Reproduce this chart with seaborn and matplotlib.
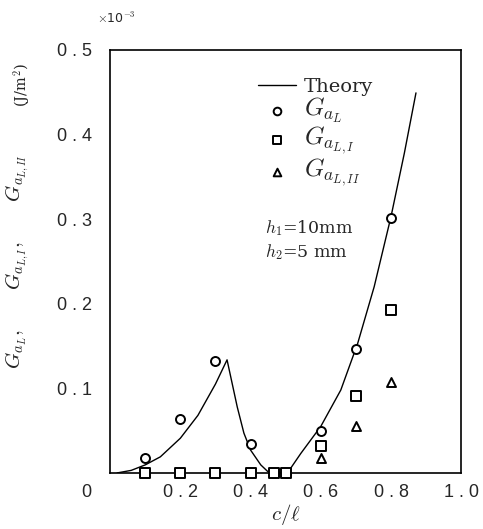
import matplotlib
matplotlib.use('Agg')
import matplotlib.pyplot as plt
import matplotlib.transforms as mtransforms
import seaborn as sns

# theory curve
theory_c = [0.02, 0.06, 0.10, 0.143, 0.20, 0.25, 0.30, 0.333,
            0.362, 0.381, 0.40, 0.429, 0.448, 0.457, 0.505,
            0.543, 0.60, 0.657, 0.705, 0.752, 0.80, 0.838, 0.871]
theory_g = [0.0, 0.003, 0.0095, 0.019, 0.041, 0.068, 0.105, 0.1336,
            0.078, 0.047, 0.027, 0.0095, 0.002, 0.0, 0.0,
            0.023, 0.055, 0.098, 0.153, 0.220, 0.303, 0.378, 0.449]

# measured points
c_total = [0.1, 0.2, 0.3, 0.4, 0.466, 0.5, 0.6, 0.7, 0.8]
g_total = [0.018, 0.064, 0.132, 0.034, 0.0, 0.0, 0.050, 0.147, 0.301]
c_mode1 = [0.1, 0.2, 0.3, 0.4, 0.466, 0.5, 0.6, 0.7, 0.8]
g_mode1 = [0.0, 0.0, 0.0, 0.0, 0.0, 0.0, 0.032, 0.091, 0.193]
c_mode2 = [0.6, 0.7, 0.8]
g_mode2 = [0.018, 0.056, 0.108]

xticks = [0.0, 0.2, 0.4, 0.6, 0.8, 1.0]
xtick_labels = ['0', '0 . 2', '0 . 4', '0 . 6', '0 . 8', '1 . 0']
yticks = [0.1, 0.2, 0.3, 0.4, 0.5]
ytick_labels = ['0 . 1', '0 . 2', '0 . 3', '0 . 4', '0 . 5']

sns.set_style('white')
plt.rcParams['mathtext.fontset'] = 'cm'
plt.rcParams['font.family'] = ['DejaVu Sans']

fig = plt.figure(figsize=(4.83, 5.29), dpi=100)
ax = fig.add_axes([0.228, 0.106, 0.727, 0.800])

sns.lineplot(x=theory_c, y=theory_g, ax=ax, color='black', linewidth=1.0,
             label='Theory', sort=False)
mk = dict(facecolor='white', edgecolor='black', linewidth=1.4, s=42, zorder=3, clip_on=False)
sns.scatterplot(x=c_total, y=g_total, ax=ax, marker='o', label=r'$G_{a_L}$', **mk)
sns.scatterplot(x=c_mode1, y=g_mode1, ax=ax, marker='s', label=r'$G_{a_{L,I}}$', **mk)
sns.scatterplot(x=c_mode2, y=g_mode2, ax=ax, marker='^', label=r'$G_{a_{L,II}}$', **mk)

ax.set_xlim(0, 1.0)
ax.set_ylim(0, 0.5)
ax.set_xticks(xticks)
ax.set_xticklabels(xtick_labels, family='Liberation Sans', fontsize=13)
ax.set_yticks(yticks)
ax.set_yticklabels(ytick_labels, family='Liberation Sans', fontsize=13)
ax.tick_params(axis='y', direction='in', length=3, pad=13)
ax.tick_params(axis='x', direction='in', length=0, pad=8)
# the "0" label sits left of the corner
lbl0 = ax.get_xticklabels()[0]
lbl0.set_transform(lbl0.get_transform() + mtransforms.ScaledTranslation(-0.24, 0, fig.dpi_scale_trans))

for s in ax.spines.values():
    s.set_color('black')
    s.set_linewidth(1.2)

ax.set_xlabel(r'$c/\ell$', fontsize=15, labelpad=1)
ax.set_ylabel('')
fig.text(17 / 483, 1 - 262 / 529,
         r'$G_{a_L},\qquad G_{a_{L,I}},\qquad G_{a_{L,II}}$',
         rotation=90, fontsize=15, ha='center', va='center')
fig.text(22 / 483, 1 - 85 / 529, r'(J/m$^2$)', rotation=90, fontsize=10.5,
         family='DejaVu Serif', ha='center', va='center')
fig.text(0.20, 0.965, r'$\times$10$^{-3}$', fontsize=9, family='DejaVu Sans',
         ha='left', va='center')

leg = ax.legend(loc='upper left', bbox_to_anchor=(0.37, 0.975), frameon=False,
                handlelength=2.0, handletextpad=0.4, labelspacing=0.0,
                markerscale=0.85, prop={'family': 'DejaVu Serif', 'size': 14})
for t in leg.get_texts()[1:]:
    t.set_fontsize(18)

ax.text(0.44, 0.55, r'$h_1$=10mm' + '\n' + r'$h_2$=5 mm', transform=ax.transAxes,
        fontsize=12.5, family='DejaVu Serif', va='center', ha='left', linespacing=1.25)

fig.savefig('out.png', dpi=100)
